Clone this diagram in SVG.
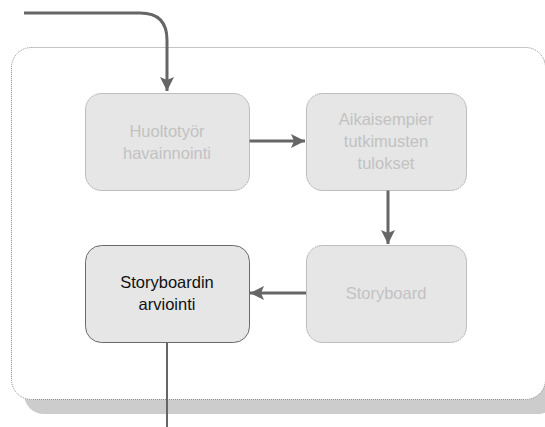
<svg xmlns="http://www.w3.org/2000/svg" width="545" height="427" viewBox="0 0 545 427">
  <style>
    .frame { fill: #ffffff; stroke: #8a8a8a; stroke-width: 1; stroke-dasharray: 1 1; }
    .shadow { fill: #cccccc; }
    .node { fill: #e6e6e6; stroke: #8a8a8a; stroke-width: 1; stroke-dasharray: 1 1; }
    .node.active { stroke: #6a6a6a; stroke-dasharray: none; }
    .label { font-family: "Liberation Sans", Arial, sans-serif; font-size: 16.5px; fill: #c2c2c2; text-anchor: middle; }
    .label.active { fill: #111111; }
    .wire { fill: none; stroke: #666666; stroke-width: 3; }
    .wire.thin { stroke-width: 2; }
  </style>
  <defs>
    <marker id="head" markerUnits="userSpaceOnUse" markerWidth="16" markerHeight="16" viewBox="0 0 16 16" refX="14" refY="8" orient="auto">
      <path d="M0,1 L14,8 L0,15 L3,8 Z" fill="#666666"/>
    </marker>
  </defs>

  <!-- background panel -->
  <g id="panel">
    <rect class="shadow" x="24" y="60" width="534" height="354" rx="20"/>
    <rect class="frame" x="11.5" y="47.5" width="534" height="352" rx="20"/>
  </g>

  <g id="connectors">
    <path class="wire" d="M24,13 H140 Q167,13 167,40 V91" marker-end="url(#head)"/>
    <path class="wire" d="M249,141 H305" marker-end="url(#head)"/>
    <path class="wire" d="M388,190 V244" marker-end="url(#head)"/>
    <path class="wire" d="M306,293 H250" marker-end="url(#head)"/>
    <path class="wire thin" d="M167,342 V427"/>
  </g>

  <g id="huoltotyor">
    <rect class="node" x="85.5" y="93.5" width="164" height="97" rx="16"/>
    <text class="label" x="167" y="137">Huoltotyör</text>
    <text class="label" x="167" y="159">havainnointi</text>
  </g>

  <g id="aikaisempien">
    <rect class="node" x="306.5" y="93.5" width="160" height="97" rx="16"/>
    <text class="label" x="386" y="125">Aikaisempier</text>
    <text class="label" x="386" y="147">tutkimusten</text>
    <text class="label" x="386" y="169">tulokset</text>
  </g>

  <g id="storyboard">
    <rect class="node" x="306.5" y="245.5" width="160" height="97" rx="16"/>
    <text class="label" x="386" y="299">Storyboard</text>
  </g>

  <g id="arviointi">
    <rect class="node active" x="85.5" y="245.5" width="164" height="97" rx="16"/>
    <text class="label active" x="167" y="288">Storyboardin</text>
    <text class="label active" x="167" y="310">arviointi</text>
  </g>
</svg>
